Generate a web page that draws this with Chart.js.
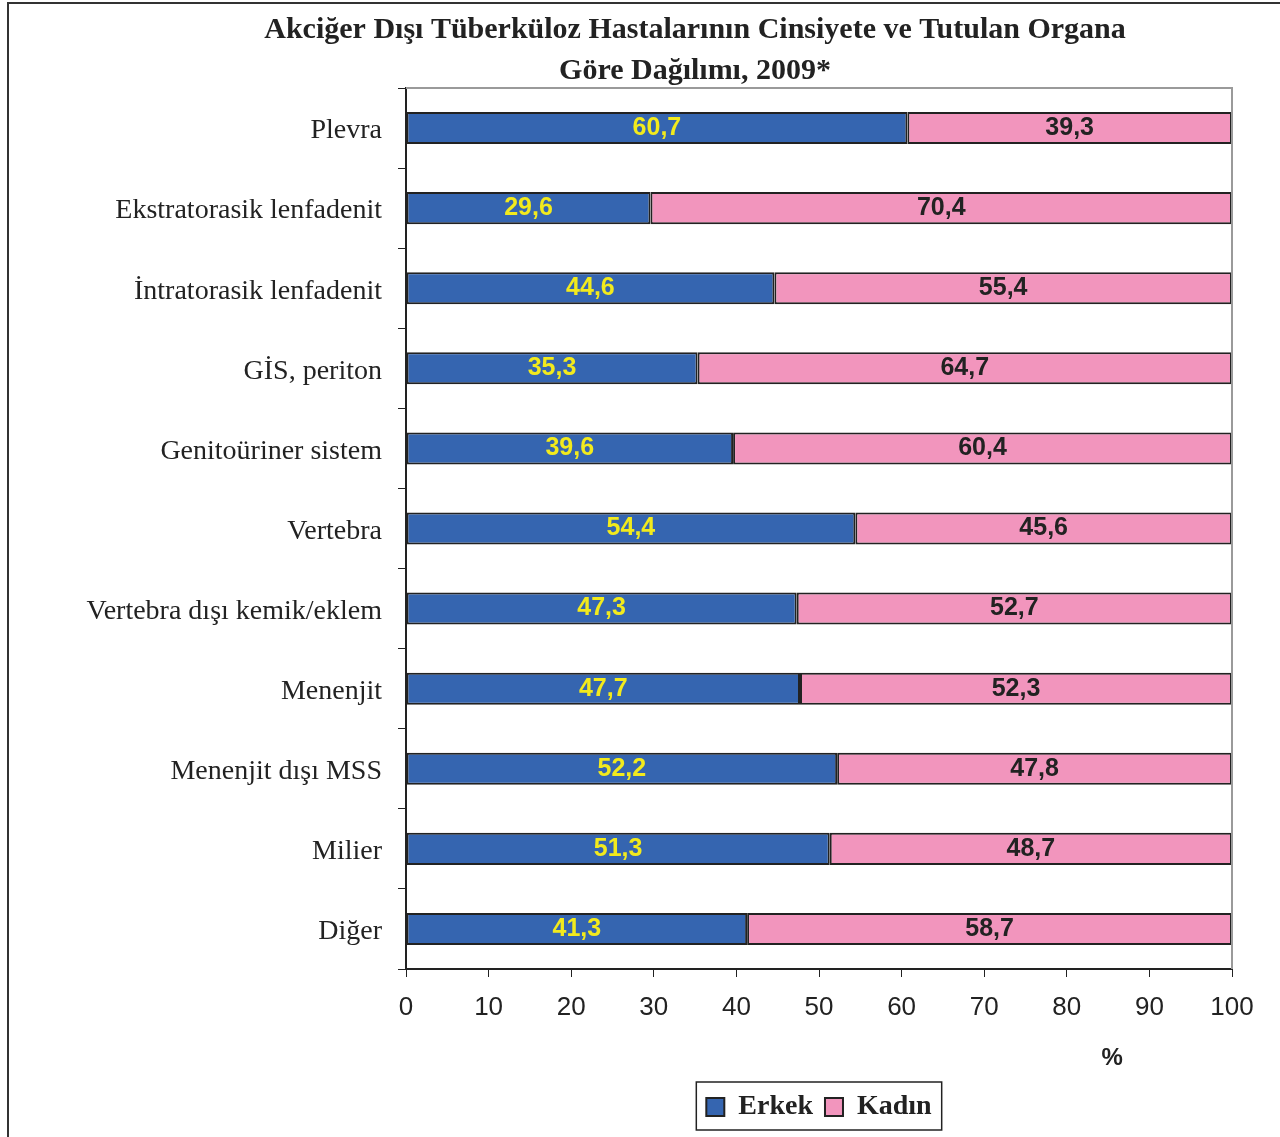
<!DOCTYPE html>
<html lang="tr">
<head>
<meta charset="UTF-8">
<title>Akciğer Dışı Tüberküloz</title>
<script src="https://cdn.jsdelivr.net/npm/chart.js@4.4.1/dist/chart.umd.min.js"></script>
<style>
    html, body { margin: 0; padding: 0; background: #fff; overflow: hidden; }
    .frame {
        position: absolute; left: 7px; top: 2px; width: 1300px; height: 1200px;
        border: 2px solid #333; box-sizing: border-box;
    }
    #chart { position: absolute; left: 0; top: 0; }
</style>
</head>
<body>
<div class="frame"></div>
<canvas id="chart" width="1280" height="1137"></canvas>
<script>
const categories = [
    'Plevra',
    'Ekstratorasik lenfadenit',
    'İntratorasik lenfadenit',
    'GİS, periton',
    'Genitoüriner sistem',
    'Vertebra',
    'Vertebra dışı kemik/eklem',
    'Menenjit',
    'Menenjit dışı MSS',
    'Milier',
    'Diğer'
];
const erkekValues = [60.7, 29.6, 44.6, 35.3, 39.6, 54.4, 47.3, 47.7, 52.2, 51.3, 41.3];
const kadinValues = [39.3, 70.4, 55.4, 64.7, 60.4, 45.6, 52.7, 52.3, 47.8, 48.7, 58.7];
const seriesNames = ['Erkek', 'Kadın'];
const titleLines = ['Akciğer Dışı Tüberküloz Hastalarının Cinsiyete ve Tutulan Organa', 'Göre Dağılımı, 2009*'];
const xMin = 0;
const xMax = 100;
const xStep = 10;
const unitLabel = '%';

const blue = '#3565b0';
const pink = '#f295bd';
const yellow = '#f2ea1d';
const ink = '#222222';
const serif = '"Liberation Serif", "DejaVu Serif", serif';
const sans = '"Liberation Sans", Arial, sans-serif';

// etiketleri segmentlerin ortasına yaz
const valueLabels = {
    id: 'valueLabels',
    afterDatasetsDraw(chart) {
        const ctx = chart.ctx;
        ctx.save();
        ctx.font = 'bold 25px ' + sans;
        ctx.textAlign = 'center';
        ctx.textBaseline = 'middle';
        chart.data.datasets.forEach((ds, i) => {
            const meta = chart.getDatasetMeta(i);
            ctx.fillStyle = i === 0 ? yellow : ink;
            meta.data.forEach((bar, j) => {
                const text = ds.data[j].toFixed(1).replace('.', ',');
                ctx.fillText(text, (bar.base + bar.x) / 2, bar.y);
            });
        });
        ctx.restore();
    }
};

// başlık, üst/sağ gri çerçeve, % etiketi ve lejant kutusu
const extras = {
    id: 'extras',
    afterDraw(chart) {
        const ctx = chart.ctx;
        const area = chart.chartArea;
        ctx.save();

        ctx.fillStyle = ink;
        ctx.font = 'bold 30px ' + serif;
        ctx.textAlign = 'center';
        ctx.textBaseline = 'middle';
        titleLines.forEach((line, i) => ctx.fillText(line, 695, 30 + i * 41));

        ctx.strokeStyle = '#9a9a9a';
        ctx.lineWidth = 2;
        ctx.beginPath();
        ctx.moveTo(area.left, area.top);
        ctx.lineTo(area.right, area.top);
        ctx.lineTo(area.right, area.bottom);
        ctx.stroke();

        const legend = chart.legend;
        const boxes = legend.legendHitBoxes;
        if (boxes.length) {
            const left = Math.min(...boxes.map(b => b.left)) - 10;
            const right = Math.max(...boxes.map(b => b.left + b.width)) + 10;
            const top = legend.top + 1;
            const bottom = legend.bottom - 1;
            ctx.strokeStyle = ink;
            ctx.lineWidth = 1.5;
            ctx.strokeRect(left, top, right - left, bottom - top);
        }

        ctx.font = 'bold 24px ' + sans;
        ctx.fillText(unitLabel, chart.scales.x.getPixelForValue(85.5), 1058);
        ctx.restore();
    }
};

new Chart(document.getElementById('chart'), {
    type: 'bar',
    data: {
        labels: categories,
        datasets: [
            {
                label: seriesNames[0],
                data: erkekValues,
                backgroundColor: blue,
                borderColor: ink,
                borderWidth: 2,
                borderSkipped: false,
                barPercentage: 0.4,
                categoryPercentage: 1
            },
            {
                label: seriesNames[1],
                data: kadinValues,
                backgroundColor: pink,
                borderColor: ink,
                borderWidth: 2,
                borderSkipped: false,
                barPercentage: 0.4,
                categoryPercentage: 1
            }
        ]
    },
    options: {
        indexAxis: 'y',
        responsive: false,
        animation: false,
        devicePixelRatio: 1,
        layout: {
            padding: { left: 0, right: 48, top: 88, bottom: 6 }
        },
        plugins: {
            title: { display: false },
            legend: {
                position: 'bottom',
                fullSize: false,
                labels: {
                    color: ink,
                    boxWidth: 18,
                    boxHeight: 18,
                    padding: 12,
                    font: { family: serif, size: 28, weight: 'bold' }
                }
            },
            tooltip: { enabled: false }
        },
        scales: {
            x: {
                stacked: true,
                min: xMin,
                max: xMax,
                grid: {
                    drawOnChartArea: false,
                    drawTicks: true,
                    tickLength: 8,
                    color: ink
                },
                border: { color: ink, width: 2 },
                ticks: {
                    stepSize: xStep,
                    color: ink,
                    padding: 15,
                    font: { family: sans, size: 26 }
                },
                afterFit(scale) {
                    scale.height = 112;
                }
            },
            y: {
                stacked: true,
                grid: {
                    drawOnChartArea: false,
                    drawTicks: true,
                    tickLength: 8,
                    color: ink,
                    offset: true
                },
                border: { color: ink, width: 2 },
                ticks: {
                    color: ink,
                    padding: 16,
                    labelOffset: 3,
                    font: { family: serif, size: 28 }
                },
                afterFit(scale) {
                    scale.width = 406;
                }
            }
        }
    },
    plugins: [valueLabels, extras]
});
</script>
</body>
</html>
